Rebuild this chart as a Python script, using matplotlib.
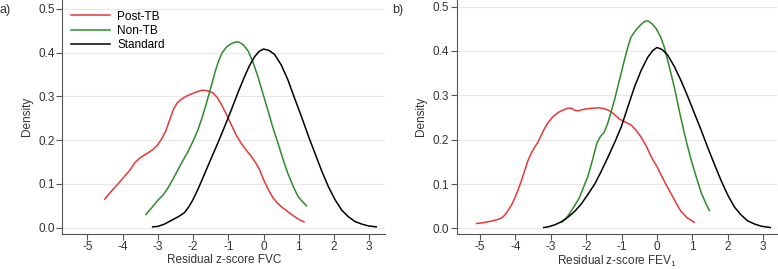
import matplotlib
matplotlib.use('Agg')
import matplotlib.pyplot as plt

plt.rcParams['font.family'] = ['Liberation Sans', 'DejaVu Sans']
plt.rcParams['axes.unicode_minus'] = False
plt.rcParams['mathtext.fontset'] = 'custom'
plt.rcParams['mathtext.rm'] = 'Liberation Sans'
plt.rcParams['mathtext.it'] = 'Liberation Sans'

# panel a) FVC
fvc_post_x = [-4.51, -4.40, -4.25, -4.10, -3.96, -3.80, -3.65, -3.50, -3.30, -3.15, -3.01, -2.90,
              -2.77, -2.65, -2.55, -2.45, -2.34, -2.20, -2.06, -1.90, -1.75, -1.60, -1.44, -1.32,
              -1.20, -1.05, -0.92, -0.78, -0.63, -0.50, -0.35, -0.22, -0.11, 0.00, 0.13, 0.27,
              0.41, 0.55, 0.70, 0.85, 0.98, 1.15]
fvc_post_y = [0.065, 0.076, 0.090, 0.103, 0.116, 0.131, 0.149, 0.160, 0.170, 0.178, 0.189, 0.202,
              0.222, 0.250, 0.272, 0.285, 0.293, 0.300, 0.305, 0.310, 0.314, 0.313, 0.308, 0.298,
              0.282, 0.258, 0.236, 0.212, 0.192, 0.178, 0.163, 0.148, 0.132, 0.110, 0.088, 0.068,
              0.055, 0.045, 0.036, 0.027, 0.020, 0.013]
fvc_non_x = [-3.34, -3.15, -3.01, -2.85, -2.72, -2.58, -2.44, -2.30, -2.15, -2.00, -1.87, -1.75,
             -1.62, -1.49, -1.38, -1.28, -1.18, -1.05, -0.92, -0.80, -0.70, -0.58, -0.44, -0.30,
             -0.16, -0.02, 0.12, 0.26, 0.41, 0.55, 0.69, 0.84, 0.98, 1.10, 1.22]
fvc_non_y = [0.030, 0.048, 0.062, 0.075, 0.090, 0.110, 0.131, 0.152, 0.173, 0.198, 0.222, 0.250,
             0.285, 0.322, 0.355, 0.380, 0.399, 0.413, 0.420, 0.424, 0.424, 0.418, 0.404, 0.378,
             0.345, 0.307, 0.269, 0.230, 0.193, 0.157, 0.124, 0.095, 0.071, 0.060, 0.050]
fvc_std_x = [-3.15, -3.00, -2.82, -2.68, -2.54, -2.40, -2.25, -2.12, -2.01, -1.85, -1.68, -1.50,
             -1.30, -1.10, -0.92, -0.72, -0.54, -0.40, -0.25, -0.12, 0.00, 0.15, 0.31, 0.50,
             0.69, 0.88, 1.08, 1.27, 1.46, 1.65, 1.84, 2.03, 2.22, 2.41, 2.60, 2.80, 2.98, 3.20]
fvc_std_y = [0.002, 0.003, 0.008, 0.014, 0.020, 0.026, 0.034, 0.048, 0.063, 0.090, 0.122, 0.156,
             0.193, 0.232, 0.268, 0.310, 0.345, 0.370, 0.391, 0.403, 0.408, 0.405, 0.396, 0.372,
             0.338, 0.296, 0.253, 0.210, 0.170, 0.130, 0.094, 0.064, 0.040, 0.025, 0.014, 0.008,
             0.004, 0.002]

# panel b) FEV1
fev_post_x = [-5.10, -4.90, -4.70, -4.50, -4.40, -4.30, -4.21, -4.10, -4.02, -3.92, -3.83, -3.74,
              -3.65, -3.55, -3.46, -3.38, -3.30, -3.20, -3.08, -2.95, -2.80, -2.65, -2.52, -2.42,
              -2.32, -2.22, -2.10, -1.95, -1.80, -1.65, -1.50, -1.39, -1.28, -1.18, -1.05, -0.90,
              -0.73, -0.60, -0.45, -0.30, -0.16, 0.00, 0.12, 0.26, 0.40, 0.54, 0.68, 0.85, 1.05]
fev_post_y = [0.011, 0.013, 0.016, 0.020, 0.023, 0.030, 0.040, 0.054, 0.068, 0.088, 0.108, 0.130,
              0.152, 0.170, 0.183, 0.192, 0.205, 0.222, 0.238, 0.251, 0.261, 0.267, 0.271, 0.271,
              0.266, 0.265, 0.268, 0.270, 0.271, 0.272, 0.270, 0.267, 0.262, 0.255, 0.246, 0.240,
              0.233, 0.222, 0.206, 0.185, 0.161, 0.139, 0.120, 0.098, 0.078, 0.057, 0.038, 0.024,
              0.014]
fev_non_x = [-2.70, -2.60, -2.52, -2.40, -2.30, -2.20, -2.10, -1.95, -1.82, -1.70, -1.60, -1.50,
             -1.40, -1.30, -1.20, -1.06, -0.92, -0.82, -0.73, -0.60, -0.45, -0.34, -0.26, -0.15,
             -0.02, 0.10, 0.21, 0.33, 0.49, 0.63, 0.78, 0.88, 0.97, 1.10, 1.25, 1.37, 1.48]
fev_non_y = [0.014, 0.020, 0.028, 0.042, 0.055, 0.068, 0.088, 0.118, 0.155, 0.192, 0.207, 0.216,
             0.235, 0.262, 0.290, 0.335, 0.380, 0.410, 0.432, 0.447, 0.460, 0.467, 0.468, 0.462,
             0.450, 0.432, 0.408, 0.370, 0.318, 0.265, 0.212, 0.180, 0.153, 0.118, 0.080, 0.058,
             0.040]
fev_std_x = [-3.20, -3.05, -2.89, -2.70, -2.52, -2.33, -2.14, -1.95, -1.76, -1.58, -1.39, -1.20,
             -1.01, -0.82, -0.64, -0.45, -0.26, -0.12, 0.00, 0.15, 0.30, 0.49, 0.68, 0.87, 1.06,
             1.25, 1.43, 1.62, 1.81, 2.00, 2.19, 2.38, 2.56, 2.75, 2.94, 3.20]
fev_std_y = [0.002, 0.004, 0.008, 0.015, 0.025, 0.038, 0.055, 0.077, 0.100, 0.128, 0.160, 0.193,
             0.229, 0.275, 0.318, 0.356, 0.386, 0.401, 0.408, 0.403, 0.391, 0.365, 0.333, 0.297,
             0.259, 0.221, 0.183, 0.145, 0.108, 0.075, 0.048, 0.030, 0.017, 0.010, 0.005, 0.002]

xticks = [-5, -4, -3, -2, -1, 0, 1, 2, 3]
yticks = [0.0, 0.1, 0.2, 0.3, 0.4, 0.5]
red = '#e8373a'
green = '#2e8b2e'
axcol = '#555555'
fs = 8.5

fig = plt.figure(figsize=(7.78, 2.69), dpi=100)
ax1 = fig.add_axes([0.0803, 0.1312, 0.4146, 0.8688])
ax2 = fig.add_axes([0.587, 0.1312, 0.4117, 0.8688])


def style(ax, xl, xlim, ylim):
    ax.set_xlim(*xlim)
    ax.set_ylim(*ylim)
    ax.set_xticks(xticks)
    ax.set_xticklabels([str(t) for t in xticks])
    ax.set_yticks(yticks)
    ax.set_yticklabels(['%.1f' % t for t in yticks])
    ax.grid(axis='y', color='#e8e8e8', lw=0.8)
    ax.set_axisbelow(True)
    for s in ['top', 'right']:
        ax.spines[s].set_visible(False)
    for s in ['left', 'bottom']:
        ax.spines[s].set_color(axcol)
        ax.spines[s].set_linewidth(0.8)
    ax.tick_params(colors='#333333', labelsize=fs, length=4, width=0.8, pad=1.5)
    ax.tick_params(axis='both', color=axcol)
    ax.set_xlabel(xl, fontsize=fs, color='#333333')
    ax.set_ylabel('Density', fontsize=fs, color='#333333', labelpad=4)
    ax.xaxis.set_label_coords(0.5, -0.086)


ax1.plot(fvc_post_x, fvc_post_y, color=red, lw=1.1, label='Post-TB')
ax1.plot(fvc_non_x, fvc_non_y, color=green, lw=1.1, label='Non-TB')
ax1.plot(fvc_std_x, fvc_std_y, color='black', lw=1.1, label='Standard')
style(ax1, 'Residual z-score FVC', (-5.71, 3.45), (-0.0137, 0.52))
ax1.legend(loc='upper left', bbox_to_anchor=(0.005, 0.985), frameon=False, fontsize=fs,
           handlelength=3.3, handletextpad=0.6, labelspacing=0.2, borderaxespad=0.2)

ax2.plot(fev_post_x, fev_post_y, color=red, lw=1.1)
ax2.plot(fev_non_x, fev_non_y, color=green, lw=1.1)
ax2.plot(fev_std_x, fev_std_y, color='black', lw=1.1)
style(ax2, 'Residual z-score FEV$_1$', (-5.66, 3.39), (-0.012, 0.515))

fig.text(0.0, 0.95, 'a)', fontsize=fs + 0.5, color='#333333')
fig.text(392 / 778, 0.95, 'b)', fontsize=fs + 0.5, color='#333333')

fig.savefig('out.png', dpi=100)
